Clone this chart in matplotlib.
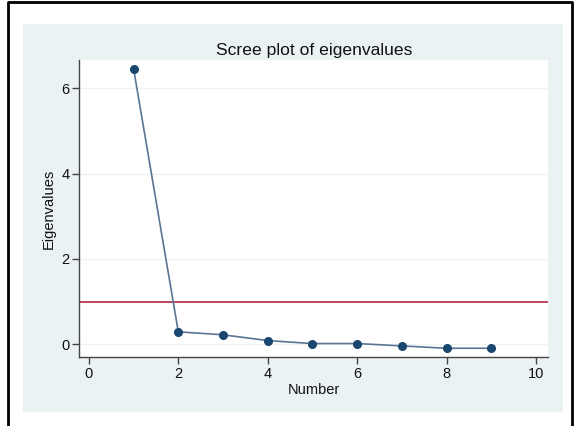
import matplotlib.pyplot as plt
from matplotlib.patches import Rectangle
from matplotlib.lines import Line2D

plt.rcParams['font.family'] = ['Liberation Sans', 'DejaVu Sans']

# eigenvalues
number = [1, 2, 3, 4, 5, 6, 7, 8, 9]
eigenvalues = [6.45, 0.29, 0.22, 0.085, 0.015, 0.015, -0.04, -0.095, -0.095]
cutoff = 1
x_ticks = [0, 2, 4, 6, 8, 10]
y_ticks = [0, 2, 4, 6]

W, H = 574, 426
fig = plt.figure(figsize=(W / 100, H / 100), dpi=100)
fig.patch.set_facecolor('white')

# light graph region behind the plot
fig.patches.append(Rectangle((23 / W, 1 - 412 / H), (563 - 23) / W, (412 - 24) / H,
                             transform=fig.transFigure, facecolor='#eaf2f3',
                             edgecolor='none', zorder=-5))
# black frame (left, top, right)
fig.lines.append(Line2D([8 / W, 8 / W, 572 / W, 572 / W], [0, 1 - 2 / H, 1 - 2 / H, 0],
                        transform=fig.transFigure, color='black', lw=2, zorder=-4))

ax = fig.add_axes([79.3 / W, 1 - 357 / H, (548 - 79.3) / W, (357 - 60) / H])
ax.set_zorder(2)
ax.set_facecolor('white')

ax.axhline(cutoff, color='#b0284a', lw=1.2, zorder=2)
ax.plot(number, eigenvalues, color='#5a7594', lw=1.2, zorder=3)
ax.plot(number, eigenvalues, 'o', color='#1a476f', ms=5.5, zorder=4)

ax.set_xlim(-0.215, 10.27)
ax.set_ylim(-0.30, 6.66)
ax.set_xticks(x_ticks)
ax.set_yticks(y_ticks)
ax.grid(axis='y', color='#eef3f4', lw=1)
ax.set_axisbelow(True)

for s in ['top', 'right']:
    ax.spines[s].set_visible(False)
for s in ['left', 'bottom']:
    ax.spines[s].set_color('#444444')
    ax.spines[s].set_linewidth(1)
ax.tick_params(direction='out', length=5, width=1, color='#444444',
               labelsize=10.5, labelcolor='#111111', pad=2)

ax.set_xlabel('Number', fontsize=10.5, labelpad=2, color='#111111')
ax.set_ylabel('Eigenvalues', fontsize=10.5, labelpad=4, color='#111111')
fig.text(314 / W, 1 - 55 / H, 'Scree plot of eigenvalues', ha='center', va='baseline',
         fontsize=12.6, color='#111111')

fig.savefig('out.png', dpi=100)
